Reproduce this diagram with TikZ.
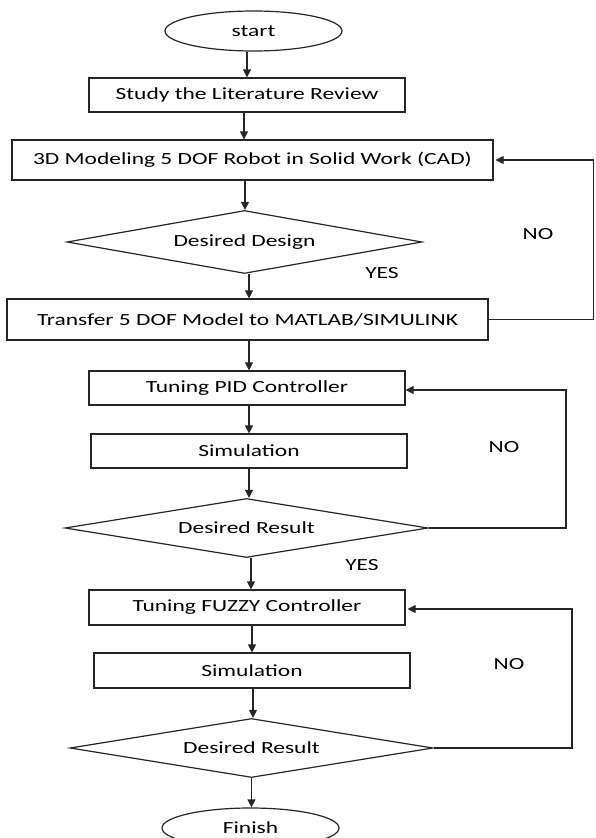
\documentclass[tikz,border=0pt]{standalone}
\usepackage{fontspec}
\setmainfont{Carlito}
\usetikzlibrary{shapes.geometric,arrows.meta}
\newcommand\sx[1]{\raisebox{-1pt}{\scalebox{1.38}[1]{#1}}}
\definecolor{lnc}{HTML}{262626}
\tikzset{
  base/.style={draw=lnc, line width=1.2pt, inner sep=0pt, font=\fontsize{17}{20}\selectfont, text=black},
  boxn/.style={base, rectangle, minimum height=34pt},
  term/.style={base, ellipse, minimum width=177pt, minimum height=40pt},
  dec/.style={base, diamond, aspect=5.6},
  arr/.style={draw=lnc, line width=1.2pt, -{Triangle[length=8pt,width=8pt]}},
  lbl/.style={font=\fontsize{17}{20}\selectfont, text=black, inner sep=0pt}
}
\begin{document}
\begin{tikzpicture}[x=1pt,y=-1pt]
\useasboundingbox (0,0) rectangle (595,838);
\clip (0,0) rectangle (595,838);
\fill[white] (0,0) rectangle (595,838);

\node[term] (start) at (253.5,31) {\sx{start}};
\node[boxn, minimum width=316pt] (b1) at (247,95) {\sx{Study the Literature Review}};
\node[boxn, minimum width=481pt, minimum height=40pt] (b2) at (252.5,160) {\sx{3D Modeling 5 DOF Robot in Solid Work (CAD)}};
\node[dec, minimum width=355pt, minimum height=63pt] (d1) at (244.5,242) {\sx{Desired Design}};
\node[boxn, minimum width=481pt, minimum height=41pt] (b3) at (247.5,319.5) {\sx{Transfer 5 DOF Model to MATLAB/SIMULINK}};
\node[boxn, minimum width=316pt] (b4) at (247,388) {\sx{Tuning PID Controller}};
\node[boxn, minimum width=316pt] (b5) at (249,451) {\sx{Simulation}};
\node[dec, minimum width=363pt, minimum height=59pt] (d2) at (246.5,528) {\sx{Desired Result}};
\node[boxn, minimum width=316pt, minimum height=35pt] (b6) at (247,607.5) {\sx{Tuning FUZZY Controller}};
\node[boxn, minimum width=316pt, minimum height=35pt] (b7) at (252,670.5) {\sx{Simulation}};
\node[dec, minimum width=363pt, minimum height=59pt] (d3) at (251.5,748) {\sx{Desired Result}};
\node[term] (fin) at (250.5,828) {\sx{Finish}};

\node[lbl] (yes1) at (382,273) {\sx{YES}};
\node[lbl] (no1) at (538,234) {\sx{NO}};
\node[lbl] (no2) at (504,447) {\sx{NO}};
\node[lbl] (yes2) at (362,565) {\sx{YES}};
\node[lbl] (no3) at (509,664) {\sx{NO}};

% main flow
\draw[arr] ([xshift=-6.5pt]start.south) -- ([xshift=-6.5pt]start.south |- b1.north);
\draw[arr] ([xshift=-3pt]b1.south) -- ([xshift=-3pt]b1.south |- b2.north);
\draw[arr] ([xshift=-7.5pt]b2.south) -- ([xshift=-7.5pt]b2.south |- d1.north);
\draw[arr] ([xshift=4.5pt]d1.south) -- ([xshift=4.5pt]d1.south |- b3.north);
\draw[arr] ([xshift=1.5pt]b3.south) -- ([xshift=1.5pt]b3.south |- b4.north);
\draw[arr] ([xshift=2pt]b4.south) -- ([xshift=2pt]b4.south |- b5.north);
\draw[arr] (b5.south) -- (b5.south |- d2.north);
\draw[arr] ([xshift=4.5pt]d2.south) -- ([xshift=4.5pt]d2.south |- b6.north);
\draw[arr] ([xshift=5pt]b6.south) -- ([xshift=5pt]b6.south |- b7.north);
\draw[arr] ([xshift=1pt]b7.south) -- ([xshift=1pt]b7.south |- d3.north);
\draw[arr] (d3.south) -- (d3.south |- fin.north);

% feedback loops
\coordinate (r1) at (593.5,0);
\coordinate (r2) at (566,0);
\coordinate (r3) at (572,0);
\draw[arr] (b3.east) -- (b3.east -| r1) -- (b2.east -| r1) -- ([xshift=2pt]b2.east);
\draw[arr] (d2.east) -- (d2.east -| r2) -- ([yshift=-2pt]b4.east -| r2) -- ([yshift=-2pt]b4.east);
\draw[arr] (d3.east) -- (d3.east -| r3) -- ([yshift=-1.5pt]b6.east -| r3) -- ([xshift=2pt,yshift=-1.5pt]b6.east);
\end{tikzpicture}
\end{document}
